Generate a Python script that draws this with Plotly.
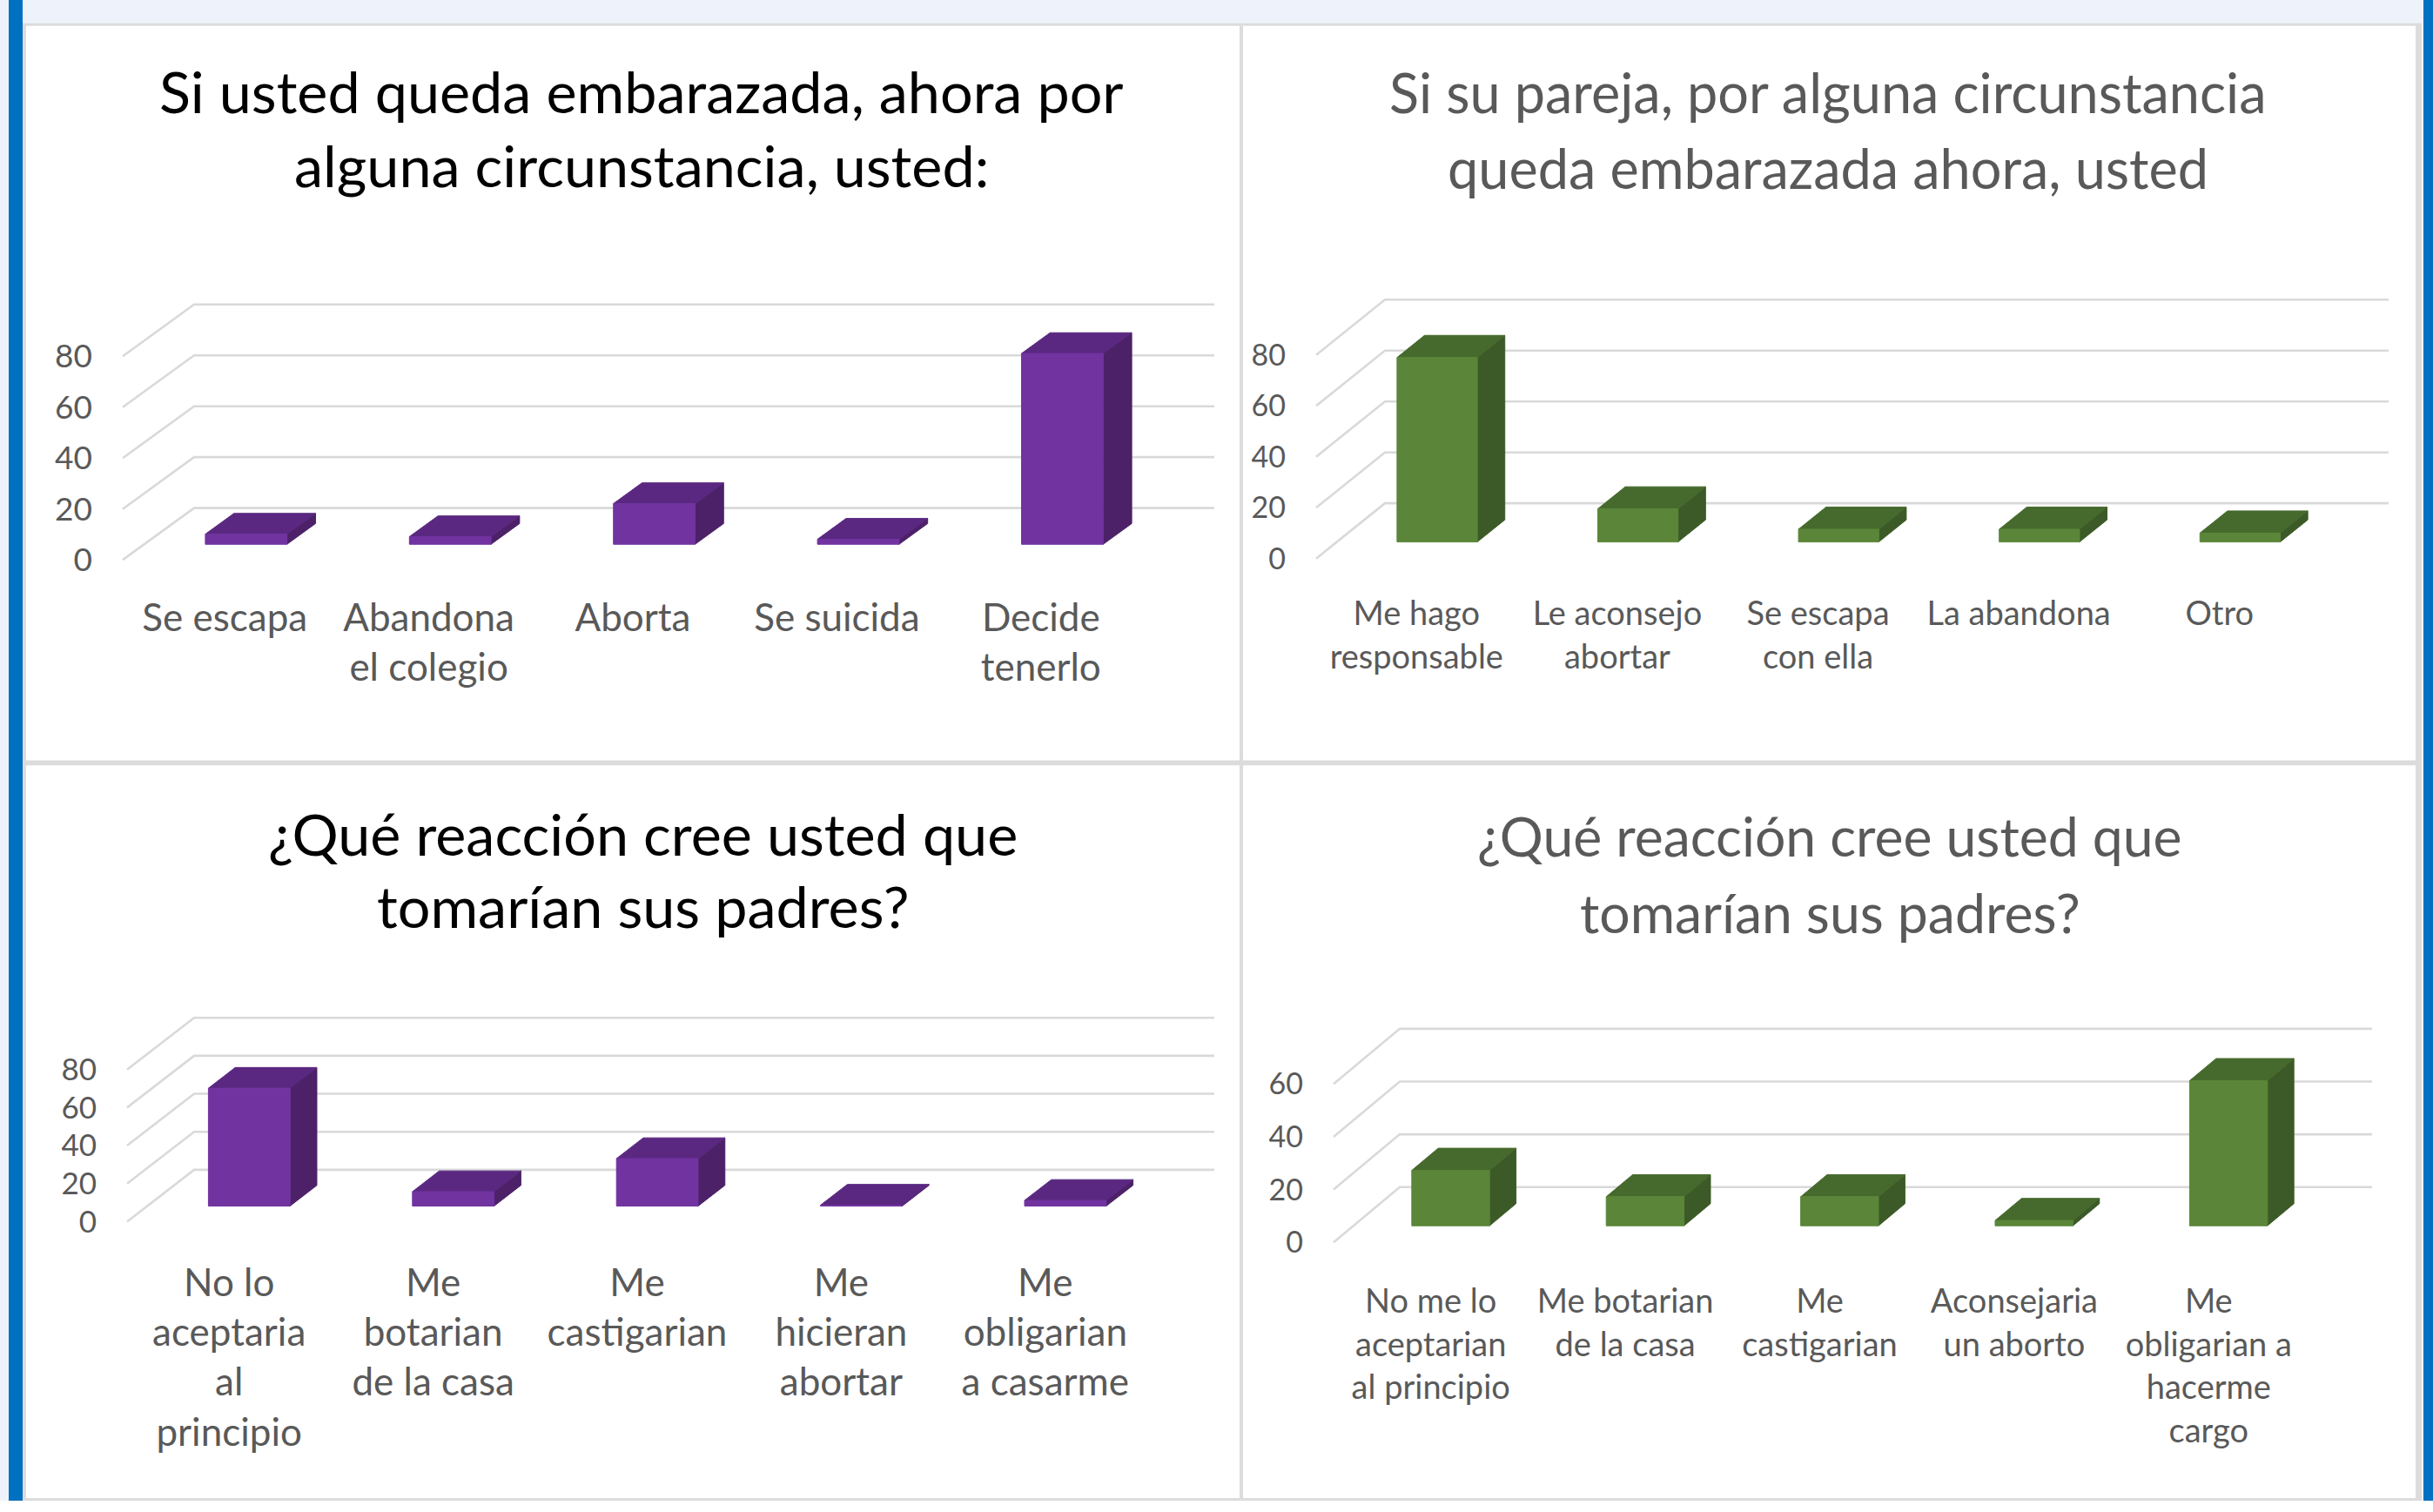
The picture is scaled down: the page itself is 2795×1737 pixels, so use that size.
import plotly.graph_objects as go

W, H = 2795, 1737
FONT = "Lato, Roboto, sans-serif"

# ---------------- data ----------------
cats1 = ["Se escapa", "Abandona<br>el colegio", "Aborta", "Se suicida", "Decide<br>tenerlo"]
vals1 = [4, 3, 16, 2, 75]
title1 = ["Si usted queda embarazada, ahora por", "alguna circunstancia, usted:"]

cats2 = ["Me hago<br>responsable", "Le aconsejo<br>abortar", "Se escapa<br>con ella", "La abandona", "Otro"]
vals2 = [72.5, 13, 5, 5, 3.5]
title2 = ["Si su pareja, por alguna circunstancia", "queda embarazada ahora, usted"]

cats3 = ["No lo<br>aceptaria<br>al<br>principio", "Me<br>botarian<br>de la casa", "Me<br>castigarian",
         "Me<br>hicieran<br>abortar", "Me<br>obligarian<br>a casarme"]
vals3 = [62, 7.6, 25, 0.5, 3]
title3 = ["¿Qué reacción cree usted que", "tomarían sus padres?"]

cats4 = ["No me lo<br>aceptarian<br>al principio", "Me botarian<br>de la casa", "Me<br>castigarian",
         "Aconsejaria<br>un aborto", "Me<br>obligarian a<br>hacerme<br>cargo"]
vals4 = [21, 11, 11, 2, 55]
title4 = ["¿Qué reacción cree usted que", "tomarían sus padres?"]

levels_80 = [0, 20, 40, 60, 80]
levels_60 = [0, 20, 40, 60]

# ---------------- styles / geometry ----------------
PURPLE = dict(front="#7133A0", top="#5A2880", side="#4C2168")
GREEN = dict(front="#5B8639", top="#466A2D", side="#3C5A27")
GRID = "#D9D9D9"
LABEL = "#595959"

panels = [
    dict(cats=cats1, vals=vals1, levels=levels_80, title=title1, tcolor="#000000", col=PURPLE,
         xf=141, cw=234.4, dxp=82, yf0=648, u=2.945, dyp=60,
         tx=737, ty=[105, 190], tsize=66.5, lsize=44, ysize=37, xstand=28),
    dict(cats=cats2, vals=vals2, levels=levels_80, title=title2, tcolor="#595959", col=GREEN,
         xf=1512, cw=230.6, dxp=79, yf0=646.5, u=2.945, dyp=64,
         tx=2100, ty=[106, 194], tsize=63, lsize=38, ysize=34, xstand=29),
    dict(cats=cats3, vals=vals3, levels=levels_80, title=title3, tcolor="#000000", col=PURPLE,
         xf=146, cw=234.4, dxp=77, yf0=1414, u=2.2, dyp=60,
         tx=738, ty=[964, 1048], tsize=66.5, lsize=44, ysize=35, xstand=34),
    dict(cats=cats4, vals=vals4, levels=levels_60, title=title4, tcolor="#595959", col=GREEN,
         xf=1532, cw=223.4, dxp=76, yf0=1438, u=3.054, dyp=64,
         tx=2102, ty=[967, 1055], tsize=62.5, lsize=38, ysize=34, xstand=33),
]

fig = go.Figure()
layout_axes = {}
annotations = []

D0, D1, BW = 0.3, 0.7, 0.4
PADX = 6  # px
YPAD = 3  # value units below 0

for k, p in enumerate(panels, start=1):
    xa = "x" if k == 1 else f"x{k}"
    ya = "y" if k == 1 else f"y{k}"
    n = len(p["cats"])
    DX = p["dxp"] / p["cw"]          # depth offset in category units
    DY = p["dyp"] / p["u"]           # depth offset in value units
    top = max(p["levels"])

    # gridlines (side wall diagonals + back wall)
    gx, gy = [], []
    for L in p["levels"]:
        gx += [-0.5, -0.5 + DX, n - 0.5 + DX, None]
        gy += [L, L + DY, L + DY, None]
    fig.add_trace(go.Scatter(x=gx, y=gy, mode="lines", line=dict(color=GRID, width=2.6),
                             xaxis=xa, yaxis=ya, hoverinfo="skip"))

    fx, fy, tx_, ty_, sx, sy = [], [], [], [], [], []
    for i, v in enumerate(p["vals"]):
        l0 = i - BW / 2 + D0 * DX
        r0 = i + BW / 2 + D0 * DX
        l1 = i - BW / 2 + D1 * DX
        r1 = i + BW / 2 + D1 * DX
        b0, b1 = D0 * DY, D1 * DY
        fx += [l0, r0, r0, l0, l0, None]
        fy += [b0, b0, v + b0, v + b0, b0, None]
        tx_ += [l0, r0, r1, l1, l0, None]
        ty_ += [v + b0, v + b0, v + b1, v + b1, v + b0, None]
        sx += [r0, r1, r1, r0, r0, None]
        sy += [b0, b1, v + b1, v + b0, b0, None]
    for xs, ys, c in [(sx, sy, p["col"]["side"]), (tx_, ty_, p["col"]["top"]), (fx, fy, p["col"]["front"])]:
        fig.add_trace(go.Scatter(x=xs, y=ys, mode="lines", fill="toself", fillcolor=c,
                                 line=dict(color=c, width=1), xaxis=xa, yaxis=ya, hoverinfo="skip"))

    # axis ranges / domains mapped to pixel geometry
    x_lo, x_hi = -0.5 - PADX / p["cw"], n - 0.5 + DX + PADX / p["cw"]
    px_lo = p["xf"] - PADX
    px_hi = p["xf"] + n * p["cw"] + p["dxp"] + PADX
    y_lo, y_hi = -YPAD, top + DY + 3
    py_lo = p["yf0"] + YPAD * p["u"]
    py_hi = p["yf0"] - (top + DY + 3) * p["u"]

    layout_axes["xaxis" if k == 1 else f"xaxis{k}"] = dict(
        domain=[px_lo / W, px_hi / W], range=[x_lo, x_hi], anchor=ya,
        tickmode="array", tickvals=list(range(n)), ticktext=p["cats"],
        showgrid=False, zeroline=False, showline=False, ticks="",
        ticklabelstandoff=p["xstand"],
        tickfont=dict(family=FONT, size=p["lsize"], color=LABEL), fixedrange=True)
    layout_axes["yaxis" if k == 1 else f"yaxis{k}"] = dict(
        domain=[1 - py_lo / H, 1 - py_hi / H], range=[y_lo, y_hi], anchor=xa,
        tickmode="array", tickvals=p["levels"], ticktext=[str(L) for L in p["levels"]],
        showgrid=False, zeroline=False, showline=False, ticks="",
        ticklabelstandoff=28,
        tickfont=dict(family=FONT, size=p["ysize"], color=LABEL), fixedrange=True)

    for line, yy in zip(p["title"], p["ty"]):
        annotations.append(dict(text=line, xref="paper", yref="paper", x=p["tx"] / W, y=1 - yy / H,
                                xanchor="center", yanchor="middle", showarrow=False,
                                font=dict(family=FONT, size=p["tsize"], color=p["tcolor"])))

# frame decoration (paper coordinates)
def rect(x0, y0, x1, y1, color):
    return dict(type="rect", xref="paper", yref="paper", x0=x0 / W, x1=x1 / W,
                y0=1 - y1 / H, y1=1 - y0 / H, fillcolor=color, line=dict(width=0), layer="below")

LIGHT = "#EEF3FB"
BLUE = "#0070C0"
DIV = "#DCDCDC"
shapes = [
    rect(0, 0, W, 27, LIGHT),
    rect(0, 0, 10, H, LIGHT),
    rect(10, 0, 26, H, BLUE),
    rect(26, 27, 30, H, DIV),
    rect(26, 27, 2782, 30, DIV),
    rect(2775, 27, 2782, H, DIV),
    rect(2782, 0, 2784, H, LIGHT),
    rect(2784, 0, W, H, BLUE),
    rect(1424, 30, 1428, H, DIV),
    rect(30, 880, 2775, 886, DIV),
    rect(30, 1734, 2775, H, DIV),
]

fig.update_layout(width=W, height=H, margin=dict(l=0, r=0, t=0, b=0),
                  paper_bgcolor="white", plot_bgcolor="rgba(0,0,0,0)",
                  showlegend=False, annotations=annotations, shapes=shapes, **layout_axes)

fig.write_html("out.html", config={"displayModeBar": False, "staticPlot": True},
               post_script="document.body.style.margin='0px';document.body.style.overflow='hidden';")
